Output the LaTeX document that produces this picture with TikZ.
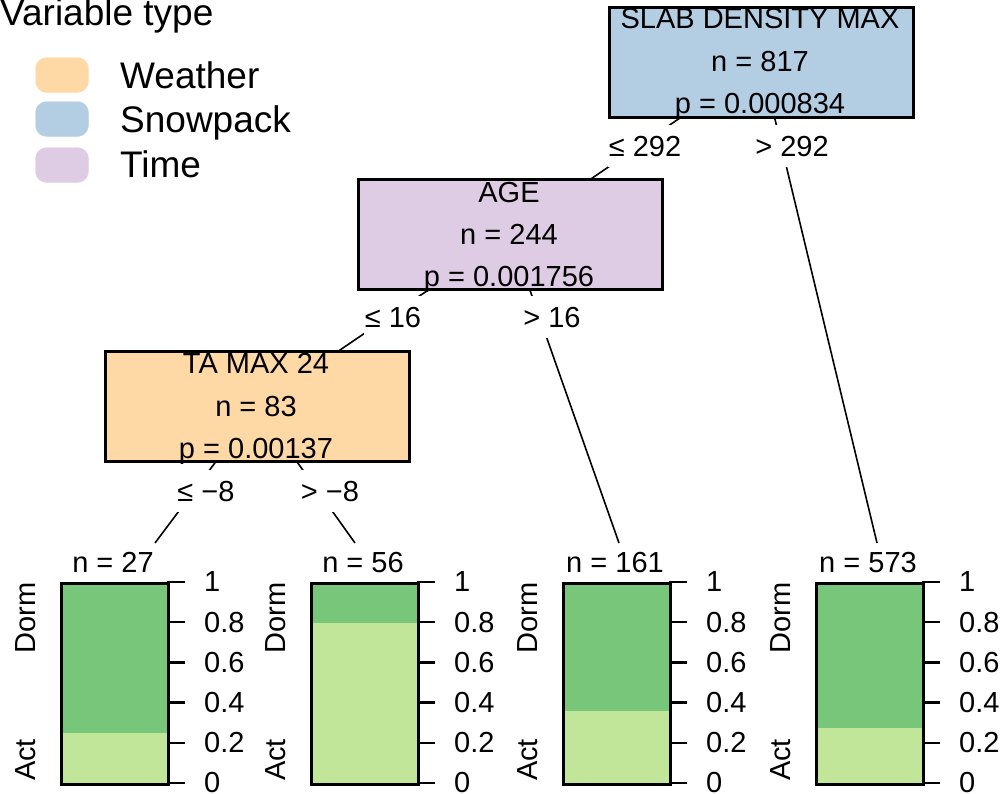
\documentclass[tikz,border=0pt]{standalone}
\usepackage{fontspec}
\setmainfont{Liberation Sans}
\pgfdeclarelayer{background}
\pgfsetlayers{background,main}
\definecolor{weath}{HTML}{FED9A6}
\definecolor{snow}{HTML}{B3CDE3}
\definecolor{timec}{HTML}{DECBE4}
\definecolor{dg}{HTML}{78C679}
\definecolor{lg}{HTML}{C2E699}
\begin{document}
\begin{tikzpicture}[x=1pt,y=-1pt,
  box/.style={draw=black, line width=2.5pt, minimum width=304pt, minimum height=110pt, inner sep=0pt, anchor=north west},
  txt/.style={font=\fontsize{29}{34}\selectfont, inner sep=0pt, anchor=base},
  elab/.style={font=\fontsize{29}{34}\selectfont, fill=white, inner xsep=1pt, inner ysep=0pt, minimum height=42pt, anchor=base},
  edgeline/.style={line width=1.6pt},
  barframe/.style={draw=black, line width=2.5pt, minimum width=107pt, minimum height=201pt, inner sep=0pt, anchor=north west},
  tickline/.style={line width=2.5pt},
  ticklab/.style={font=\fontsize{29}{34}\selectfont, inner sep=0pt, anchor=west},
  sidelab/.style={font=\fontsize{29}{34}\selectfont, inner sep=0pt, anchor=base, rotate=90},
  legtxt/.style={font=\fontsize{37}{40}\selectfont, inner sep=0pt, anchor=base west},
  swatch/.style={rounded corners=11pt, minimum width=53pt, minimum height=35pt, inner sep=0pt}]
\useasboundingbox (0,0) rectangle (1001,793);

% legend
\node[legtxt] (legtitle) at (0,25) {Variable type};
\node[swatch, fill=weath, draw=weath!80!white] (sw1) at (62,75) {};
\node[swatch, fill=snow, draw=snow!80!white] (sw2) at (62,119) {};
\node[swatch, fill=timec, draw=timec!80!white] (sw3) at (62,165) {};
\node[legtxt] (lt1) at (120,88) {Weather};
\node[legtxt] (lt2) at (120,132) {Snowpack};
\node[legtxt] (lt3) at (120,177) {Time};

% inner nodes
\node[box, fill=snow] (root) at (608,6) {};
\node[box, fill=timec] (age) at (357,178) {};
\node[box, fill=weath] (ta) at (104,350) {};

\node[txt] (rootA) at (760,28) {SLAB DENSITY MAX};
\node[txt] (rootB) at (760,71) {n = 817};
\node[txt] (rootC) at (760,113) {p = 0.000834};
\node[txt] (ageA) at (509,202) {AGE};
\node[txt] (ageB) at (509,244) {n = 244};
\node[txt] (ageC) at (509,286) {p = 0.001756};
\node[txt] (taA) at (256,373) {TA MAX 24};
\node[txt] (taB) at (256,416) {n = 83};
\node[txt] (taC) at (256,458) {p = 0.00137};

% terminal endpoints
\coordinate (t1) at (155,543);
\coordinate (t2) at (355,543);
\coordinate (t3) at (619,543);
\coordinate (t4) at (877,543);

\begin{pgfonlayer}{background}
\draw[edgeline] (root.center) -- (age.center);
\draw[edgeline] (root.center) -- (t4);
\draw[edgeline] (age.center) -- (ta.center);
\draw[edgeline] (age.center) -- (t3);
\draw[edgeline] (ta.center) -- (t1);
\draw[edgeline] (ta.center) -- (t2);
\end{pgfonlayer}

% edge labels
\node[elab] (e1) at (645,156) {≤ 292};
\node[elab] (e2) at (792,156) {> 292};
\node[elab] (e3) at (393,327) {≤ 16};
\node[elab] (e4) at (552,327) {> 16};
\node[elab] (e5) at (206,501) {≤ −8};
\node[elab] (e6) at (330,501) {> −8};

% terminal panels
\foreach \L/\a/\n/\k in {60/733/27/1, 310/623/56/2, 562/711/161/3, 815/728/573/4} {
  \fill[lg] (\L,\a) rectangle (\L+107,783);
  \fill[dg] (\L,582) rectangle (\L+107,\a);
  \node[barframe] (bar\k) at (\L,582) {};
  \node[txt] (nlab\k) at (\L+53,572) {n = \n};
  \node[sidelab] (dorm\k) at (\L-25,618) {Dorm};
  \node[sidelab] (act\k) at (\L-25,760) {Act};
  \foreach \v/\t/\j in {0/0/0, 0.2/0.2/1, 0.4/0.4/2, 0.6/0.6/3, 0.8/0.8/4, 1/1/5} {
    \draw[tickline] (\L+107,783-\v*201) -- ++(18,0);
    \node[ticklab] (tk\k\j) at (\L+144,783-\v*201) {\t};
  }
}
\end{tikzpicture}
\end{document}
